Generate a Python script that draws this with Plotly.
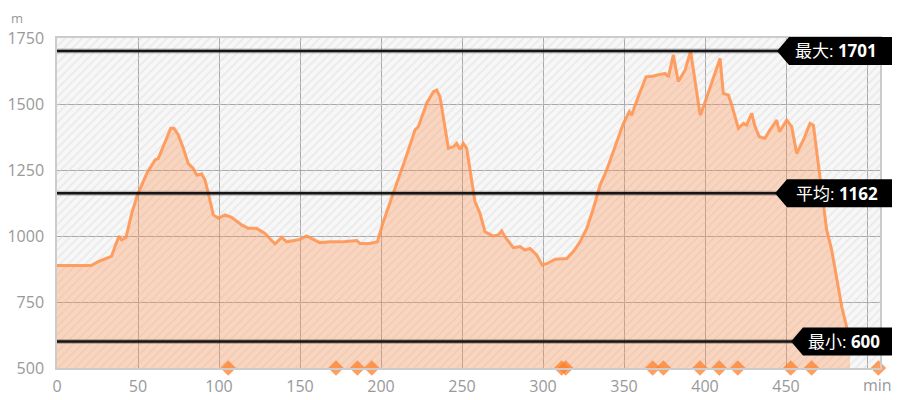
import plotly.graph_objects as go

# ---- data ----
minutes = [0, 21, 25.5, 29.6, 33.7, 35.8, 38.3, 39.9, 42.6, 46.1, 49.6, 55.4, 60.5, 62.5,
           67.7, 70.2, 72.2, 74.9, 78, 81, 84.1, 86.2, 89.3, 91.4, 94.4, 96.5, 99.6, 103.7,
           107.8, 114, 118.1, 123.2, 128.4, 131.5, 134.6, 138.7, 141.8, 150, 154.1, 158.2,
           162.3, 168.5, 176.7, 185, 187, 193.2, 197.7, 201.4, 205.6, 209.7, 214.8, 221, 223,
           228.2, 232.3, 234.4, 236.4, 241.6, 244.6, 246.7, 248.8, 250.8, 252.9, 258, 261.1,
           264.2, 269.3, 272.4, 274.5, 276.5, 281.7, 285.8, 288.9, 292, 296.1, 299.5, 302.3,
           307.4, 314.6, 318.7, 322.8, 327, 331.1, 335.2, 339.3, 344.4, 349.6, 353.3, 354.7,
           358.8, 363.6, 368.1, 375.3, 377.4, 380.4, 383.5, 387.7, 391.1, 397, 399, 409.3,
           411.3, 414.4, 416.5, 420.6, 423.7, 425.7, 428.8, 430.9, 433.5, 437, 440.1, 444.2,
           445.9, 450.4, 453.5, 456.6, 460.7, 464.8, 466.9, 470, 473.1, 475.1, 478.2, 481.3,
           484.4, 487.4, 489.5]
elevation = [888, 888, 903, 915, 924, 960, 1000, 985, 995, 1086, 1155, 1237, 1288, 1294,
             1376, 1408, 1408, 1383, 1332, 1275, 1256, 1231, 1235, 1212, 1136, 1080, 1067, 1080,
             1071, 1042, 1029, 1029, 1010, 991, 970, 995, 978, 987, 1000, 987,
             975, 978, 978, 983, 972, 972, 978, 1054, 1124, 1200, 1288, 1402, 1414,
             1503, 1547, 1553, 1528, 1332, 1338, 1351, 1328, 1351, 1332, 1130, 1086,
             1016, 1000, 1004, 1019, 997, 956, 960, 947, 953, 928, 890, 895,
             912, 915, 941, 978, 1029, 1105, 1193, 1250, 1338, 1427, 1471, 1458,
             1528, 1603, 1606, 1616, 1603, 1686, 1585, 1629, 1701, 1458, 1490, 1673,
             1540, 1534, 1496, 1408, 1427, 1420, 1465, 1414, 1376, 1370, 1402, 1439,
             1395, 1439, 1414, 1313, 1364, 1427, 1420, 1275, 1124, 1023, 947, 833,
             732, 656, 600]
stop_minutes = [105.7, 172.2, 185.4, 194.3, 311.5, 314, 367.7, 374.3, 396.9, 408.8, 420.2,
                452.9, 465.8, 507]

stat_names = ["最大", "平均", "最小"]
stat_values = [1701, 1162, 600]

x_ticks = [0, 50, 100, 150, 200, 250, 300, 350, 400, 450, 500]
x_tick_text = ["0", "50", "100", "150", "200", "250", "300", "350", "400", "450", ""]
y_ticks = [500, 750, 1000, 1250, 1500, 1750]
x_unit = "min"
y_unit = "m"

XMIN, XMAX = 0, 508
YMIN, YMAX = 500, 1750

FONT = "Open Sans, Noto Sans CJK SC, sans-serif"
GREY = "#999999"

fig = go.Figure()

# hatched plot background
fig.add_trace(go.Scatter(
    x=[XMIN, XMAX, XMAX, XMIN, XMIN], y=[YMIN, YMIN, YMAX, YMAX, YMIN],
    mode="none", fill="toself", fillcolor="rgba(0,0,0,0)",
    fillpattern=dict(shape="/", size=6, solidity=0.3,
                     fgcolor="#dcdcdc", bgcolor="rgba(0,0,0,0)"),
    hoverinfo="skip", showlegend=False))

# elevation area
fig.add_trace(go.Scatter(
    x=minutes, y=elevation, mode="lines", fill="tozeroy",
    fillcolor="rgba(255,140,70,0.31)",
    line=dict(color="rgba(255,145,75,0.85)", width=3),
    showlegend=False))

# stop markers
fig.add_trace(go.Scatter(
    x=stop_minutes, y=[YMIN] * len(stop_minutes), mode="markers",
    marker=dict(symbol="diamond", size=12, color="#ff7f2a", opacity=0.75,
                line=dict(width=0)),
    cliponaxis=False, showlegend=False))

shapes = []
annotations = []
tips = [(-103, -91, -87), (-105, -93, -86), (-89, -77, -74)]
for name, val, (tip, box, txt) in zip(stat_names, stat_values, tips):
    shapes.append(dict(type="line", xref="paper", yref="y", x0=0, x1=1, y0=val, y1=val,
                       line=dict(color="rgba(0,0,0,0.22)", width=5), layer="above"))
    shapes.append(dict(type="line", xref="paper", yref="y", x0=0, x1=1, y0=val, y1=val,
                       line=dict(color="#151515", width=2.5), layer="above"))
    yp = (val - YMIN) / (YMAX - YMIN)
    shapes.append(dict(type="path", xref="paper", yref="paper",
                       xsizemode="pixel", ysizemode="pixel", xanchor=1, yanchor=yp,
                       path=f"M {tip},0 L {box},14 L 13,14 L 13,-14 L {box},-14 Z",
                       fillcolor="#000000", line=dict(width=0), layer="above"))
    annotations.append(dict(x=1, xref="paper", y=val, yref="y", xanchor="left",
                            yanchor="middle", xshift=txt, showarrow=False,
                            text=f"{name}: <b>{val}</b>",
                            font=dict(color="white", size=17, family=FONT)))

annotations.append(dict(x=-40 / 823, xref="paper", y=1 + 30 / 330, yref="paper",
                        xanchor="center", yanchor="top", showarrow=False, borderpad=0,
                        text=y_unit, font=dict(color=GREY, size=13, family=FONT)))
annotations.append(dict(x=(877 - 57) / 823, xref="paper", y=-17 / 330, yref="paper",
                        xanchor="center", yanchor="middle", showarrow=False,
                        text=x_unit, font=dict(color=GREY, size=16, family=FONT)))

# page body has an 8px default margin, so the figure is offset by 8px
fig.update_layout(
    width=892, height=392,
    margin=dict(l=49, r=20, t=30, b=32, autoexpand=False),
    paper_bgcolor="white", plot_bgcolor="#f7f7f7",
    font=dict(family=FONT, color=GREY, size=16),
    shapes=shapes, annotations=annotations,
    hovermode=False,
    xaxis=dict(range=[XMIN, XMAX], tickvals=x_ticks, ticktext=x_tick_text,
               showgrid=True, gridcolor="#a8a8a8", gridwidth=1, automargin=False,
               showline=True, linecolor="#cccccc", linewidth=1.5, mirror=True,
               zeroline=False, ticks="", ticklabelstandoff=3,
               tickfont=dict(color=GREY, size=16, family=FONT)),
    yaxis=dict(range=[YMIN, YMAX], tickvals=y_ticks, automargin=False,
               showgrid=True, gridcolor="#a8a8a8", gridwidth=1,
               showline=True, linecolor="#cccccc", linewidth=1.5, mirror=True,
               zeroline=False, ticks="", ticklabelstandoff=8,
               tickfont=dict(color=GREY, size=16, family=FONT)),
)

fig.write_html("out.html")
